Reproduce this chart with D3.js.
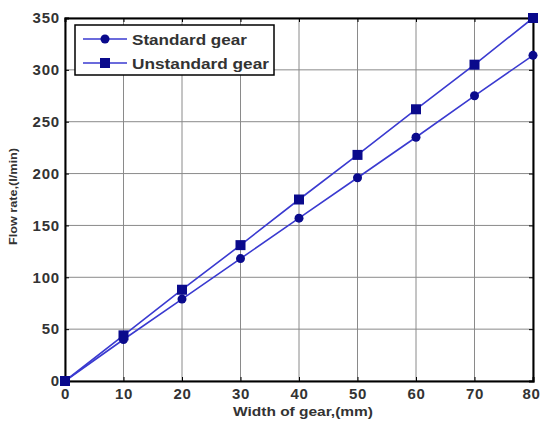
<!DOCTYPE html>
<html>
<head>
<meta charset="utf-8">
<script src="https://cdn.jsdelivr.net/npm/d3@7"></script>
<style>
  body { margin: 0; background: white; }
</style>
</head>
<body>
<div id="chart"></div>
<script>
// data
const widths = [0, 10, 20, 30, 40, 50, 60, 70, 80]
const standardFlow = [0, 40, 79, 118, 157, 196, 235, 275, 314]
const unstandardFlow = [0, 44, 88, 131, 175, 218, 262, 305, 350]
const xTicks = [0, 10, 20, 30, 40, 50, 60, 70, 80]
const yTicks = [0, 50, 100, 150, 200, 250, 300, 350]
const seriesNames = ["Standard gear", "Unstandard gear"]

const width = 540
const height = 424
const margin = { top: 18, right: 7, bottom: 43, left: 65 }

const lineColor = "#3a3ad0"
const markerColor = "#0a0a8c"
const textColor = "#333"

const svg = d3.select("#chart").append("svg")
    .attr("width", width)
    .attr("height", height)
    .style("font-family", "'Liberation Sans', Arial, sans-serif")

const x = d3.scaleLinear()
    .domain([0, 80])
    .range([margin.left, width - margin.right])

const y = d3.scaleLinear()
    .domain([0, 350])
    .range([height - margin.bottom, margin.top])

// grid
svg.append("g")
    .selectAll("line.vgrid")
    .data(xTicks)
    .join("line")
    .attr("x1", d => x(d)).attr("x2", d => x(d))
    .attr("y1", y(0)).attr("y2", y(350))
    .style("stroke", "#8a8a8a")
    .style("stroke-width", 1)

svg.append("g")
    .selectAll("line.hgrid")
    .data(yTicks)
    .join("line")
    .attr("x1", x(0)).attr("x2", x(80))
    .attr("y1", d => y(d)).attr("y2", d => y(d))
    .style("stroke", "#8a8a8a")
    .style("stroke-width", 1)

// axes
const xAxis = svg.append("g")
    .attr("transform", "translate(0," + y(0) + ")")
    .call(d3.axisBottom(x).tickValues(xTicks).tickSize(-4).tickPadding(7))
const yAxis = svg.append("g")
    .attr("transform", "translate(" + x(0) + ",0)")
    .call(d3.axisLeft(y).tickValues(yTicks).tickSize(-4).tickPadding(5))
// top and right ticks, matlab style
svg.append("g")
    .attr("transform", "translate(0," + y(350) + ")")
    .call(d3.axisTop(x).tickValues(xTicks).tickSize(-4).tickFormat(""))
svg.append("g")
    .attr("transform", "translate(" + x(80) + ",0)")
    .call(d3.axisRight(y).tickValues(yTicks).tickSize(-4).tickFormat(""))

svg.selectAll(".domain").style("stroke", "black").style("stroke-width", 2)
svg.selectAll(".tick line").style("stroke", "black")

xAxis.selectAll("text")
    .style("font-size", "15px")
    .style("font-weight", "bold")
    .style("letter-spacing", "0.6px")
    .style("fill", textColor)
// last label sits right on the edge, nudge it in
xAxis.selectAll(".tick text")
    .filter(d => d === 80)
    .attr("text-anchor", "end")
    .attr("dx", 7)
yAxis.selectAll("text")
    .style("font-size", "15px")
    .style("font-weight", "bold")
    .style("letter-spacing", "0.8px")
    .style("fill", textColor)

// axis titles
svg.append("text")
    .attr("x", 233)
    .attr("y", 416)
    .attr("textLength", 140)
    .attr("lengthAdjust", "spacingAndGlyphs")
    .style("font-size", "12px")
    .style("font-weight", "bold")
    .style("fill", textColor)
    .text("Width of gear,(mm)")

svg.append("text")
    .attr("transform", "translate(17,245) rotate(-90)")
    .attr("textLength", 97)
    .attr("lengthAdjust", "spacingAndGlyphs")
    .style("font-size", "10px")
    .style("font-weight", "bold")
    .style("fill", textColor)
    .text("Flow rate,(l/min)")

// lines
const line = d3.line()
    .x((d, i) => x(widths[i]))
    .y(d => y(d))

svg.append("path")
    .datum(standardFlow)
    .attr("d", line)
    .style("fill", "none")
    .style("stroke", lineColor)
    .style("stroke-width", 1.6)

svg.append("path")
    .datum(unstandardFlow)
    .attr("d", line)
    .style("fill", "none")
    .style("stroke", lineColor)
    .style("stroke-width", 1.6)

svg.append("g")
    .selectAll("circle")
    .data(standardFlow)
    .join("circle")
    .attr("cx", (d, i) => x(widths[i]))
    .attr("cy", d => y(d))
    .attr("r", 4.5)
    .style("fill", markerColor)

svg.append("g")
    .selectAll("rect")
    .data(unstandardFlow)
    .join("rect")
    .attr("x", (d, i) => x(widths[i]) - 5)
    .attr("y", d => y(d) - 5)
    .attr("width", 10)
    .attr("height", 10)
    .style("fill", markerColor)

// legend
const legend = svg.append("g")
legend.append("rect")
    .attr("x", 75)
    .attr("y", 25)
    .attr("width", 199)
    .attr("height", 50)
    .style("fill", "white")
    .style("stroke", "black")
    .style("stroke-width", 1.5)

const legendTextLen = [115, 137]
seriesNames.forEach(function(name, i) {
    const ly = 39 + i * 24
    legend.append("line")
        .attr("x1", 83).attr("x2", 127)
        .attr("y1", ly).attr("y2", ly)
        .style("stroke", lineColor)
        .style("stroke-width", 1.6)
    if (i === 0) {
        legend.append("circle")
            .attr("cx", 105).attr("cy", ly).attr("r", 4.5)
            .style("fill", markerColor)
    } else {
        legend.append("rect")
            .attr("x", 100).attr("y", ly - 5)
            .attr("width", 10).attr("height", 10)
            .style("fill", markerColor)
    }
    legend.append("text")
        .attr("x", 132)
        .attr("y", ly + 5.5)
        .attr("textLength", legendTextLen[i])
        .attr("lengthAdjust", "spacingAndGlyphs")
        .style("font-size", "15px")
        .style("font-weight", "bold")
        .style("fill", textColor)
        .text(name)
})
</script>
</body>
</html>
